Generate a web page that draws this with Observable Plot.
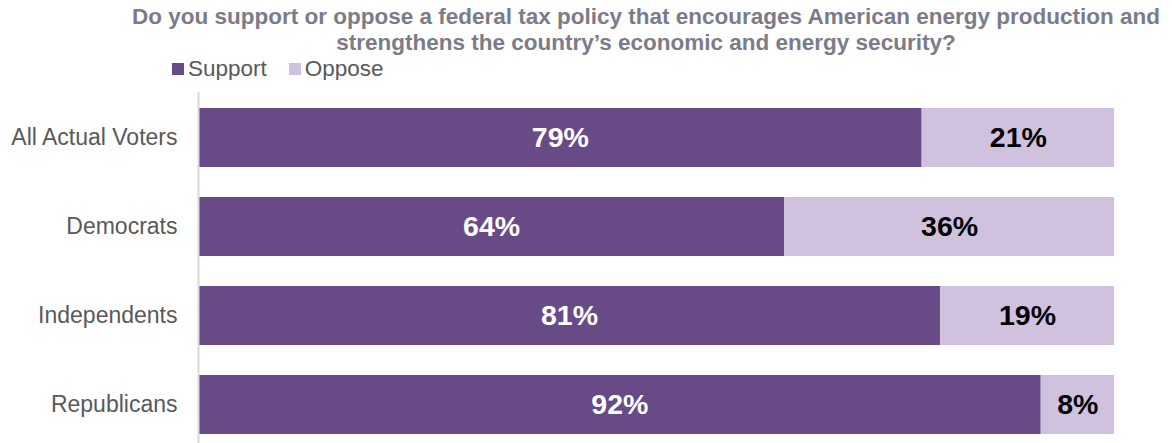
<!DOCTYPE html>
<html><head><meta charset="utf-8">
<script src="https://cdn.jsdelivr.net/npm/d3@7"></script>
<script src="https://cdn.jsdelivr.net/npm/@observablehq/plot@0.6"></script>
<style>
body{margin:0;background:#fff;font-family:"Liberation Sans",Arial,sans-serif;overflow:hidden;width:1172px;height:443px;position:relative}
#title{position:absolute;left:120px;width:1052px;top:4px;text-align:center;font-weight:bold;font-size:22.5px;line-height:26px;color:#7b7b8a;white-space:nowrap}
#legend{position:absolute;left:172px;top:56px;font-size:22.5px;color:#595959;white-space:nowrap;line-height:26px}
#legend span.sw{display:inline-block;width:12px;height:12px;margin-right:4px;vertical-align:1px}
#legend span.item{margin-right:22px}
#chart{position:absolute;left:0;top:80px}
</style></head><body>
<div id="title">Do you support or oppose a federal tax policy that encourages American energy production and<br>strengthens the country’s economic and energy security?</div>
<div id="legend"></div>
<div id="chart"></div>
<script>
const groups = ["All Actual Voters", "Democrats", "Independents", "Republicans"];
const support = [79, 64, 81, 92];
const oppose = [21, 36, 19, 8];
const seriesNames = ["Support", "Oppose"];
const seriesColors = ["#684a87", "#d0c1de"];
const labelColors = ["white", "black"];

const rows = groups.flatMap((g, i) => [
  {group: g, series: "Support", value: support[i]},
  {group: g, series: "Oppose", value: oppose[i]}
]);

const legend = document.getElementById("legend");
seriesNames.forEach((s, i) => {
  const item = document.createElement("span");
  item.className = "item";
  item.innerHTML = `<span class="sw" style="background:${seriesColors[i]}"></span>${s}`;
  legend.appendChild(item);
});

const chart = Plot.plot({
  width: 1172,
  height: 375,
  marginLeft: 198,
  marginRight: 58,
  marginTop: 12,
  marginBottom: 6,
  x: {domain: [0, 100], axis: null},
  y: {domain: groups, paddingInner: 0.34, paddingOuter: 0.17, label: null, tickSize: 0, tickPadding: 21},
  color: {domain: seriesNames, range: seriesColors},
  style: {fontFamily: "'Liberation Sans', Arial, sans-serif", fontSize: "23px", color: "#595959", background: "white"},
  marks: [
    Plot.barX(rows, Plot.stackX({x: "value", y: "group", fill: "series", order: seriesNames})),
    Plot.text(rows, Plot.stackX({x: "value", y: "group", z: "series", order: seriesNames, text: d => d.value + "%",
      fill: {value: d => labelColors[seriesNames.indexOf(d.series)], scale: null}, fontWeight: "bold", fontSize: 28.5})),
    Plot.ruleX([0], {stroke: "#d9d9d9", strokeWidth: 2})
  ]
});
document.getElementById("chart").appendChild(chart);
</script>
</body></html>
